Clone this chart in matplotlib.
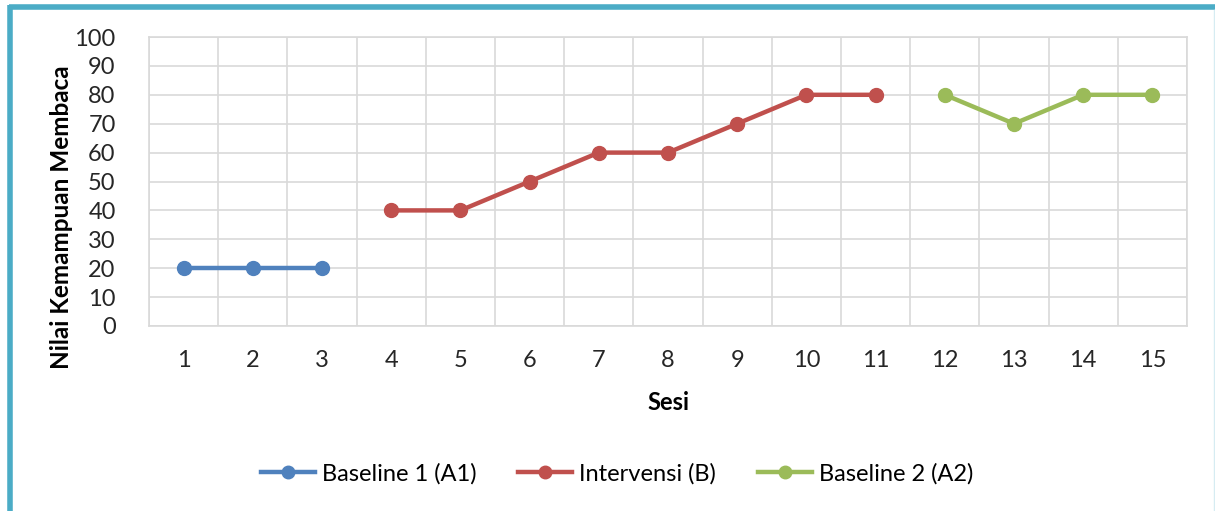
import matplotlib.pyplot as plt
from matplotlib.lines import Line2D

plt.rcParams['font.family'] = ['Lato', 'DejaVu Sans']

# session numbers and reading scores per phase
sesi_a1 = [1, 2, 3]
nilai_a1 = [20, 20, 20]
sesi_b = [4, 5, 6, 7, 8, 9, 10, 11]
nilai_b = [40, 40, 50, 60, 60, 70, 80, 80]
sesi_a2 = [12, 13, 14, 15]
nilai_a2 = [80, 70, 80, 80]

labels = ['Baseline 1 (A1)', 'Intervensi (B)', 'Baseline 2 (A2)']
colors = ['#4F81BD', '#C0504D', '#9BBB59']

fig = plt.figure(figsize=(12.15, 5.11), dpi=100)
ax = fig.add_axes([149 / 1215, 1 - 326 / 511, (1187 - 149) / 1215, (326 - 37) / 511])

for xs, ys, lab, c in zip([sesi_a1, sesi_b, sesi_a2], [nilai_a1, nilai_b, nilai_a2], labels, colors):
    ax.plot(xs, ys, color=c, lw=3.2, marker='o', ms=10, label=lab, solid_capstyle='butt')

ax.set_xlim(0.5, 15.5)
ax.set_ylim(0, 100)
ax.set_yticks(range(0, 101, 10))
ax.set_xticks(range(1, 16))
ax.set_xticks([i + 0.5 for i in range(0, 16)], minor=True)
ax.grid(True, which='major', axis='y', color='#D9D9D9', lw=1.2)
ax.grid(True, which='minor', axis='x', color='#D9D9D9', lw=1.2)
ax.set_axisbelow(True)
ax.tick_params(which='both', length=0)
ax.tick_params(axis='x', labelsize=17, pad=17, colors='#262626')
ax.tick_params(axis='y', labelsize=17, pad=24, colors='#262626')
for s in ax.spines.values():
    s.set_color('#D9D9D9')
    s.set_linewidth(1.2)

ax.set_xlabel('Sesi', fontsize=17, fontweight='bold')
ax.xaxis.set_label_coords(0.5, -(403 - 326) / 289)
ax.xaxis.label.set_va('center')
ax.set_ylabel('Nilai Kemampuan Membaca', fontsize=17.5, fontweight='bold')
ax.yaxis.set_label_coords(-(149 - 62) / 1038, (326 - 217) / 289)
ax.yaxis.label.set_va('center')

handles = [Line2D([], [], color=c, lw=3.2, marker='o', ms=9) for c in colors]
fig.legend(handles, labels, loc='center', bbox_to_anchor=(617 / 1215, 1 - 474 / 511),
           ncol=3, frameon=False, fontsize=17, handlelength=2.3, handletextpad=0.3,
           columnspacing=1.75)

# teal frame along the left and top edges
fig.add_artist(Line2D([10.5 / 1215, 10.5 / 1215], [0, 1 - 5 / 511], color='#4BACC6', lw=4,
                      transform=fig.transFigure, solid_capstyle='butt'))
fig.add_artist(Line2D([8.5 / 1215, 1], [1 - 7.5 / 511, 1 - 7.5 / 511], color='#4BACC6', lw=4,
                      transform=fig.transFigure, solid_capstyle='butt'))
fig.add_artist(Line2D([1213.5 / 1215, 1213.5 / 1215], [0, 1 - 10 / 511], color='#D6ECF2', lw=1,
                      transform=fig.transFigure))

fig.savefig('out.png', dpi=100)
